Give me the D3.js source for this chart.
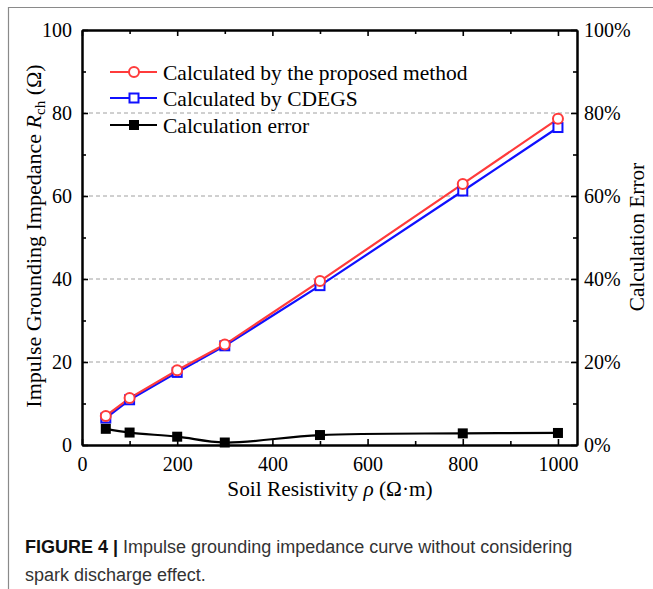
<!DOCTYPE html>
<html><head><meta charset="utf-8">
<script src="https://cdn.jsdelivr.net/npm/d3@7"></script>
<style>html,body{margin:0;padding:0;background:#fff;}svg{display:block;}</style>
</head><body>
<svg id="chart" width="653" height="589"></svg>
<script>
const resistivity = [50, 100, 200, 300, 500, 800, 1000];
const proposed = [7.0, 11.3, 18.0, 24.2, 39.5, 62.9, 78.6];
const cdegs = [6.5, 10.9, 17.5, 23.9, 38.4, 61.2, 76.5];
const errorPct = [3.9, 3.0, 2.0, 0.6, 2.4, 2.8, 2.9];
const xTicks = [0, 200, 400, 600, 800, 1000];
const yTicks = [0, 20, 40, 60, 80, 100];
const yRightTicks = ["0%", "20%", "40%", "60%", "80%", "100%"];
const legendLabels = ["Calculated by the proposed method", "Calculated by CDEGS", "Calculation error"];

const svg = d3.select("#chart");
const serif = "'Liberation Serif','Times New Roman',serif";
const L = 82, R = 577, T = 30, B = 445;
const x = d3.scaleLinear().domain([0, 1040]).range([L, R]);
const y = d3.scaleLinear().domain([0, 100]).range([B, T]);
const yr = d3.scaleLinear().domain([0, 100]).range([B, T]);

// frame
svg.append("line").attr("x1", 8).attr("x2", 653).attr("y1", 7.5).attr("y2", 7.5).attr("stroke", "#8a8a8a").attr("stroke-width", 1.2);
svg.append("line").attr("x1", 8.5).attr("x2", 8.5).attr("y1", 7).attr("y2", 589).attr("stroke", "#8a8a8a").attr("stroke-width", 1.2);

// grid
svg.append("g").selectAll("line").data([20, 40, 60, 80]).join("line")
  .attr("x1", L).attr("x2", R).attr("y1", d => y(d)).attr("y2", d => y(d))
  .attr("stroke", "#a0a0a0").attr("stroke-width", 1).attr("stroke-dasharray", "4,3");

// axes
function styleAxis(g) {
  g.select(".domain").attr("stroke", "#000").attr("stroke-width", 2);
  g.selectAll(".tick line").attr("stroke", "#000").attr("stroke-width", 1.6);
  g.selectAll("text").attr("font-family", serif).attr("font-size", 20).attr("fill", "#000");
}
const minorX = d3.range(100, 1001, 200);
const minorY = d3.range(10, 100, 20);

const gB = svg.append("g").attr("transform", `translate(0,${B})`)
  .call(d3.axisBottom(x).tickValues(xTicks).tickSize(-6).tickSizeOuter(0).tickPadding(12).tickFormat(d3.format("d")));
styleAxis(gB);
svg.append("g").attr("transform", `translate(0,${B})`)
  .call(d3.axisBottom(x).tickValues(minorX).tickSize(-4).tickSizeOuter(0).tickFormat(""))
  .call(styleAxis);
const gT = svg.append("g").attr("transform", `translate(0,${T})`)
  .call(d3.axisTop(x).tickValues(xTicks).tickSize(-6).tickSizeOuter(0).tickFormat(""));
styleAxis(gT);
svg.append("g").attr("transform", `translate(0,${T})`)
  .call(d3.axisTop(x).tickValues(minorX).tickSize(-4).tickSizeOuter(0).tickFormat(""))
  .call(styleAxis);

const gL = svg.append("g").attr("transform", `translate(${L},0)`)
  .call(d3.axisLeft(y).tickValues(yTicks).tickSize(-6).tickSizeOuter(0).tickPadding(10));
styleAxis(gL);
svg.append("g").attr("transform", `translate(${L},0)`)
  .call(d3.axisLeft(y).tickValues(minorY).tickSize(-4).tickSizeOuter(0).tickFormat(""))
  .call(styleAxis);

const gR = svg.append("g").attr("transform", `translate(${R},0)`)
  .call(d3.axisRight(yr).tickValues(yTicks).tickSize(-6).tickSizeOuter(0).tickPadding(7)
    .tickFormat((d, i) => yRightTicks[i]));
styleAxis(gR);
svg.append("g").attr("transform", `translate(${R},0)`)
  .call(d3.axisRight(yr).tickValues(minorY).tickSize(-4).tickSizeOuter(0).tickFormat(""))
  .call(styleAxis);

// lines
const red = "#ff3b3b", blue = "#1010ff";
const lineP = d3.line().x((d, i) => x(resistivity[i])).y(d => y(d));
svg.append("path").datum(cdegs).attr("d", lineP).attr("fill", "none").attr("stroke", blue).attr("stroke-width", 2.2);
svg.append("path").datum(proposed).attr("d", lineP).attr("fill", "none").attr("stroke", red).attr("stroke-width", 2.2);
const lineE = d3.line().x((d, i) => x(resistivity[i])).y(d => yr(d)).curve(d3.curveCatmullRom.alpha(0.5));
svg.append("path").datum(errorPct).attr("d", lineE).attr("fill", "none").attr("stroke", "#000").attr("stroke-width", 2.2);

// markers
svg.append("g").selectAll("rect").data(cdegs).join("rect")
  .attr("x", (d, i) => x(resistivity[i]) - 4.5).attr("y", d => y(d) - 4.5)
  .attr("width", 9).attr("height", 9).attr("fill", "#fff").attr("stroke", blue).attr("stroke-width", 2);
svg.append("g").selectAll("circle").data(proposed).join("circle")
  .attr("cx", (d, i) => x(resistivity[i])).attr("cy", d => y(d)).attr("r", 5)
  .attr("fill", "#fff").attr("stroke", red).attr("stroke-width", 2);
svg.append("g").selectAll("rect").data(errorPct).join("rect")
  .attr("x", (d, i) => x(resistivity[i]) - 5).attr("y", d => yr(d) - 5)
  .attr("width", 10).attr("height", 10).attr("fill", "#000");

// legend
const legY = [72, 98, 125];
const legColors = [red, blue, "#000"];
legendLabels.forEach((lab, i) => {
  const g = svg.append("g");
  g.append("line").attr("x1", 110).attr("x2", 157).attr("y1", legY[i]).attr("y2", legY[i])
    .attr("stroke", legColors[i]).attr("stroke-width", 2.2);
  if (i === 0) g.append("circle").attr("cx", 134).attr("cy", legY[i]).attr("r", 5).attr("fill", "#fff").attr("stroke", red).attr("stroke-width", 2);
  if (i === 1) g.append("rect").attr("x", 129.5).attr("y", legY[i] - 4.5).attr("width", 9).attr("height", 9).attr("fill", "#fff").attr("stroke", blue).attr("stroke-width", 2);
  if (i === 2) g.append("rect").attr("x", 129).attr("y", legY[i] - 5).attr("width", 10).attr("height", 10).attr("fill", "#000");
  g.append("text").attr("x", 163).attr("y", legY[i]).attr("dy", "0.35em")
    .attr("font-family", serif).attr("font-size", 21.5).text(lab);
});

// axis titles
const xt = svg.append("text").attr("x", 330).attr("y", 496).attr("text-anchor", "middle")
  .attr("font-family", serif).attr("font-size", 21.3);
xt.append("tspan").text("Soil Resistivity ");
xt.append("tspan").attr("font-style", "italic").text("ρ");
xt.append("tspan").text(" (Ω·m)");

const yt = svg.append("text").attr("transform", `translate(41,236) rotate(-90)`).attr("text-anchor", "middle")
  .attr("font-family", serif).attr("font-size", 22);
yt.append("tspan").text("Impulse Grounding Impedance ");
yt.append("tspan").attr("font-style", "italic").text("R");
yt.append("tspan").attr("font-size", 15).attr("dy", 4).text("ch");
yt.append("tspan").attr("dy", -4).text(" (Ω)");

svg.append("text").attr("transform", `translate(644,237) rotate(-90)`).attr("text-anchor", "middle")
  .attr("font-family", serif).attr("font-size", 21.3).text("Calculation Error");

// caption
const capFont = "'Liberation Sans Narrow','Arial Narrow','Liberation Sans',Arial,sans-serif";
const c1 = svg.append("text").attr("x", 25).attr("y", 553).attr("font-family", capFont).attr("font-size", 18).attr("fill", "#333");
c1.append("tspan").attr("font-weight", "bold").attr("fill", "#111").text("FIGURE 4 | ");
c1.append("tspan").text("Impulse grounding impedance curve without considering");
svg.append("text").attr("x", 25).attr("y", 581).attr("font-family", capFont).attr("font-size", 18).attr("fill", "#333")
  .text("spark discharge effect.");
</script>
</body></html>
